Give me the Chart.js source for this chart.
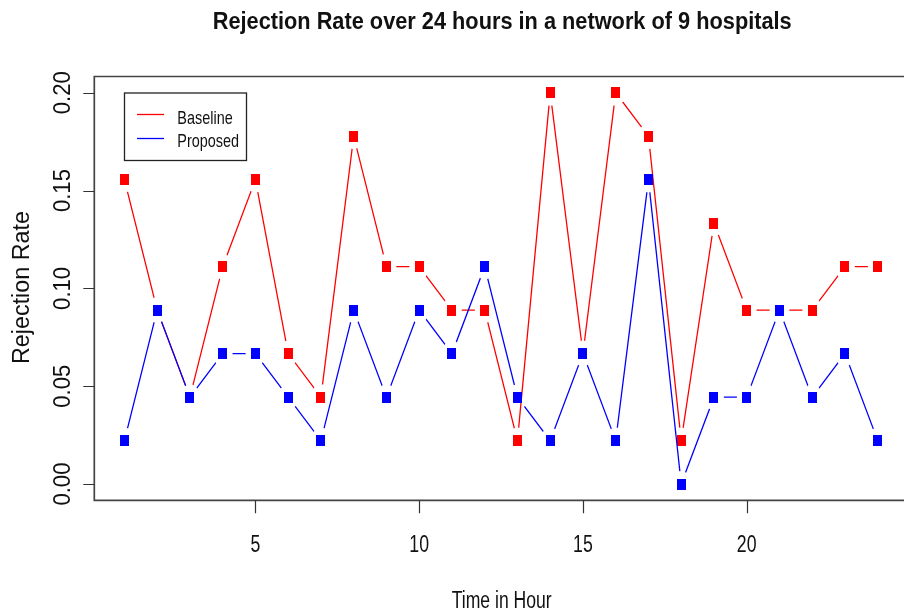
<!DOCTYPE html>
<html>
<head>
<meta charset="utf-8">
<script src="https://cdn.jsdelivr.net/npm/chart.js@4/dist/chart.umd.min.js"></script>
<style>
  html, body { margin: 0; padding: 0; background: #fff; }
  #wrap { width: 904px; height: 613px; }
</style>
</head>
<body>
<div id="wrap"><canvas id="rejChart" width="904" height="613"></canvas></div>
<script>
const hours = [1, 2, 3, 4, 5, 6, 7, 8, 9, 10, 11, 12, 13, 14, 15, 16, 17, 18, 19, 20, 21, 22, 23, 24];
const baseline = [0.1556, 0.0889, 0.0444, 0.1111, 0.1556, 0.0667, 0.0444, 0.1778, 0.1111, 0.1111, 0.0889, 0.0889,
                  0.0222, 0.2000, 0.0667, 0.2000, 0.1778, 0.0222, 0.1333, 0.0889, 0.0889, 0.0889, 0.1111, 0.1111];
const proposed = [0.0222, 0.0889, 0.0444, 0.0667, 0.0667, 0.0444, 0.0222, 0.0889, 0.0444, 0.0889, 0.0667, 0.1111,
                  0.0444, 0.0222, 0.0667, 0.0222, 0.1556, 0.0000, 0.0444, 0.0444, 0.0889, 0.0444, 0.0667, 0.0222];
const xTicks = [5, 10, 15, 20];
const yTicks = [0, 0.05, 0.10, 0.15, 0.20];
const yTickLabels = ["0.00", "0.05", "0.10", "0.15", "0.20"];
const seriesNames = ["Baseline", "Proposed"];
const titleText = "Rejection Rate over 24 hours in a network of 9 hospitals";
const xTitle = "Time in Hour";
const yTitle = "Rejection Rate";

const FONT = "'Liberation Sans', Arial, sans-serif";
const RED = "#ff0000";
const BLUE = "#0000ff";

// little filled rectangle used as the R "pch 15" marker
function marker(color) {
  const c = document.createElement("canvas");
  c.width = 9;
  c.height = 11;
  const g = c.getContext("2d");
  g.fillStyle = color;
  g.fillRect(0, 0, 9, 11);
  return c;
}

function toPoints(ys) {
  return hours.map((h, i) => ({ x: h, y: ys[i] }));
}

// text with a horizontal squeeze (sx) or a fixed width
function drawText(ctx, text, x, y, o) {
  ctx.save();
  ctx.translate(x, y);
  if (o.rotate) ctx.rotate(-Math.PI / 2);
  ctx.font = (o.bold ? "bold " : "") + o.size + "px " + FONT;
  ctx.fillStyle = "#111";
  ctx.textBaseline = "alphabetic";
  const w = ctx.measureText(text).width;
  const sx = o.width ? o.width / w : (o.sx || 1);
  ctx.scale(sx, 1);
  ctx.textAlign = o.align || "center";
  ctx.fillText(text, 0, 0);
  ctx.restore();
}

// type="b" style: leave a gap in the line around every point
const gapPlugin = {
  id: "gapPlugin",
  beforeDatasetDraw(chart, args) {
    const ds = chart.data.datasets[args.index];
    if (!ds.gap) return;
    const ctx = chart.ctx;
    ctx.save();
    ctx.beginPath();
    ctx.rect(0, 0, chart.width, chart.height);
    args.meta.data.forEach(pt => {
      ctx.moveTo(pt.x + ds.gap[0], pt.y);
      ctx.ellipse(pt.x, pt.y, ds.gap[0], ds.gap[1], 0, 0, Math.PI * 2);
    });
    ctx.clip("evenodd");
  },
  afterDatasetDraw(chart, args) {
    if (chart.data.datasets[args.index].gap) chart.ctx.restore();
  }
};

const rAxes = {
  id: "rAxes",
  afterDraw(chart) {
    const ctx = chart.ctx;
    const a = chart.chartArea;
    const xs = chart.scales.x;
    const ys = chart.scales.y;

    // box
    ctx.save();
    ctx.strokeStyle = "#444";
    ctx.lineWidth = 1.7;
    ctx.beginPath();
    ctx.moveTo(chart.width + 5, a.top);
    ctx.lineTo(a.left, a.top);
    ctx.lineTo(a.left, a.bottom);
    ctx.lineTo(chart.width + 5, a.bottom);
    ctx.stroke();

    // tick marks
    ctx.strokeStyle = "#333";
    ctx.lineWidth = 1.2;
    ctx.beginPath();
    xTicks.forEach(v => {
      const px = Math.round(xs.getPixelForValue(v)) + 0.5;
      ctx.moveTo(px, a.bottom);
      ctx.lineTo(px, a.bottom + 13);
    });
    yTicks.forEach(v => {
      const py = Math.round(ys.getPixelForValue(v)) + 0.5;
      ctx.moveTo(a.left - 11, py);
      ctx.lineTo(a.left, py);
    });
    ctx.stroke();
    ctx.restore();

    // tick labels
    xTicks.forEach(v => {
      drawText(ctx, String(v), xs.getPixelForValue(v), 551.5, { size: 23.3, sx: 0.76 });
    });
    yTicks.forEach((v, i) => {
      drawText(ctx, yTickLabels[i], 70, ys.getPixelForValue(v), { size: 23.3, width: 43, rotate: true });
    });

    // titles
    drawText(ctx, titleText, 502.2, 29, { size: 23.3, bold: true, width: 579 });
    drawText(ctx, xTitle, 501.7, 607.5, { size: 23.3, width: 100 });
    drawText(ctx, yTitle, 29.3, 287.5, { size: 23.3, width: 153, rotate: true });

    // legend
    ctx.save();
    ctx.strokeStyle = "#222";
    ctx.lineWidth = 1.3;
    ctx.strokeRect(124.5, 93, 122, 67.5);
    ctx.lineWidth = 1.3;
    [RED, BLUE].forEach((c, i) => {
      const ly = i === 0 ? 114.5 : 138.5;
      ctx.strokeStyle = c;
      ctx.beginPath();
      ctx.moveTo(137, ly);
      ctx.lineTo(164, ly);
      ctx.stroke();
    });
    ctx.restore();
    drawText(ctx, seriesNames[0], 177.3, 124.3, { size: 19, sx: 0.76, align: "left" });
    drawText(ctx, seriesNames[1], 177.3, 146.5, { size: 19, sx: 0.76, align: "left" });
  }
};

const lineStyle = { showLine: true, borderWidth: 1.3, pointRadius: 0, pointHoverRadius: 0 };
const ptStyle = { showLine: false, borderWidth: 0 };

new Chart(document.getElementById("rejChart"), {
  type: "scatter",
  data: {
    datasets: [
      { label: seriesNames[1], data: toPoints(proposed), pointStyle: marker(BLUE), ...ptStyle },
      { label: seriesNames[1], data: toPoints(proposed), borderColor: BLUE, gap: [9.9, 13], ...lineStyle },
      { label: seriesNames[0], data: toPoints(baseline), pointStyle: marker(RED), ...ptStyle },
      { label: seriesNames[0], data: toPoints(baseline), borderColor: RED, gap: [9.9, 13], ...lineStyle }
    ]
  },
  options: {
    responsive: false,
    animation: false,
    layout: { padding: { left: 94.3, top: 76.5, right: 0, bottom: 112.7 } },
    scales: {
      x: { type: "linear", min: 0.08, max: 24.68, display: false },
      y: { type: "linear", min: -0.0083, max: 0.2083, display: false }
    },
    plugins: {
      legend: { display: false },
      title: { display: false },
      tooltip: { enabled: false }
    }
  },
  plugins: [gapPlugin, rAxes]
});
</script>
</body>
</html>
